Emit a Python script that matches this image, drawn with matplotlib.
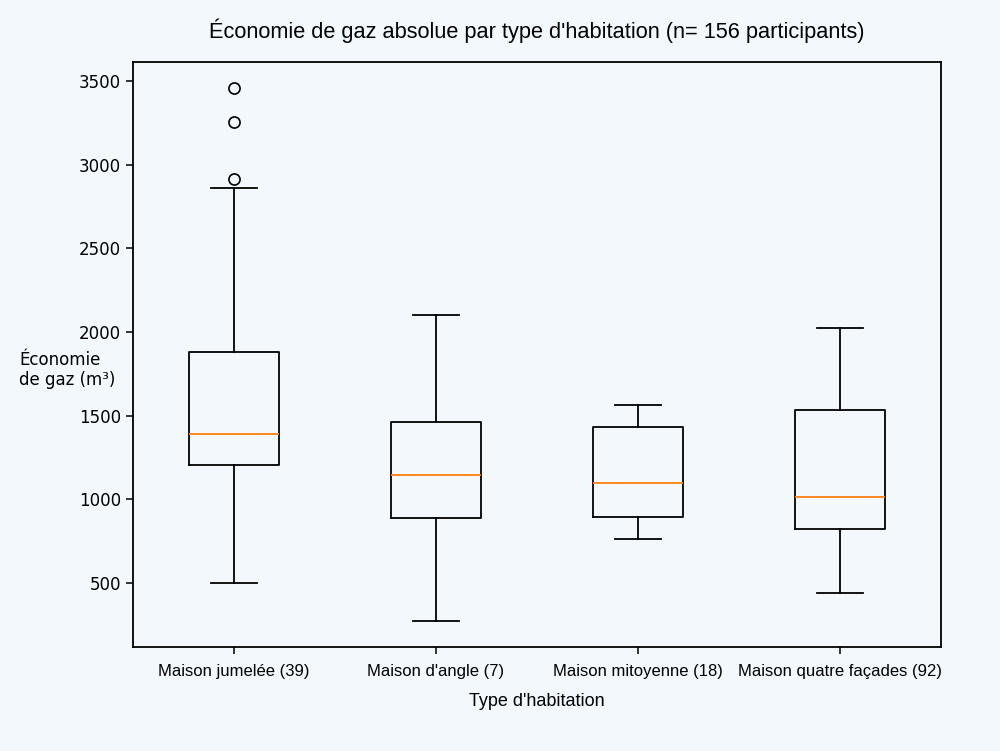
import matplotlib
matplotlib.use("Agg")
from matplotlib import pyplot as plt

# values (m3)
labels = ["Maison jumelée (39)", "Maison d'angle (7)", "Maison mitoyenne (18)", "Maison quatre façades (92)"]
whislo = [500, 273, 763, 440]
q1 = [1205, 888, 894, 823]
med = [1390, 1145, 1098, 1014]
q3 = [1880, 1462, 1432, 1534]
whishi = [2858, 2102, 1564, 2024]
fliers = [[2914, 3255, 3458], [], [], []]

bg = "#f3f8fc"

stats = []
for i in range(len(labels)):
    stats.append({"label": labels[i], "whislo": whislo[i], "q1": q1[i], "med": med[i],
                  "q3": q3[i], "whishi": whishi[i], "fliers": fliers[i]})

fig = plt.figure(figsize=(10, 7.51), dpi=100, facecolor=bg)
ax = fig.add_axes([0.133, 0.1385, 0.808, 0.779])
ax.set_facecolor(bg)

ax.bxp(stats, widths=0.45,
       boxprops=dict(linewidth=1.3, color="black"),
       whiskerprops=dict(linewidth=1.3, color="black"),
       capprops=dict(linewidth=1.3, color="black"),
       medianprops=dict(linewidth=1.3, color="#ff7f0e"),
       flierprops=dict(marker="o", markersize=8, markerfacecolor="none",
                       markeredgecolor="black", markeredgewidth=1.2))

ax.set_ylim(117, 3614)
ax.set_yticks([500, 1000, 1500, 2000, 2500, 3000, 3500])
ax.tick_params(axis="y", labelsize=12, length=5, width=1.1)
ax.tick_params(axis="x", length=5, width=1.1, pad=7)
for lab in ax.get_xticklabels():
    lab.set_fontfamily("Liberation Sans")
    lab.set_fontsize(12)
for s in ax.spines.values():
    s.set_linewidth(1.3)

ax.set_title("Économie de gaz absolue par type d'habitation (n= 156 participants)",
             fontfamily="Liberation Sans", fontsize=15.7, pad=17)
ax.set_xlabel("Type d'habitation", fontfamily="Liberation Sans", fontsize=13, labelpad=10)
ax.set_ylabel("Économie\nde gaz (m³)", rotation=0, fontsize=12, ha="left", va="center",
              multialignment="left")
ax.yaxis.set_label_coords(-0.141, 0.4735)

fig.savefig("out.png", dpi=100, facecolor=bg)
